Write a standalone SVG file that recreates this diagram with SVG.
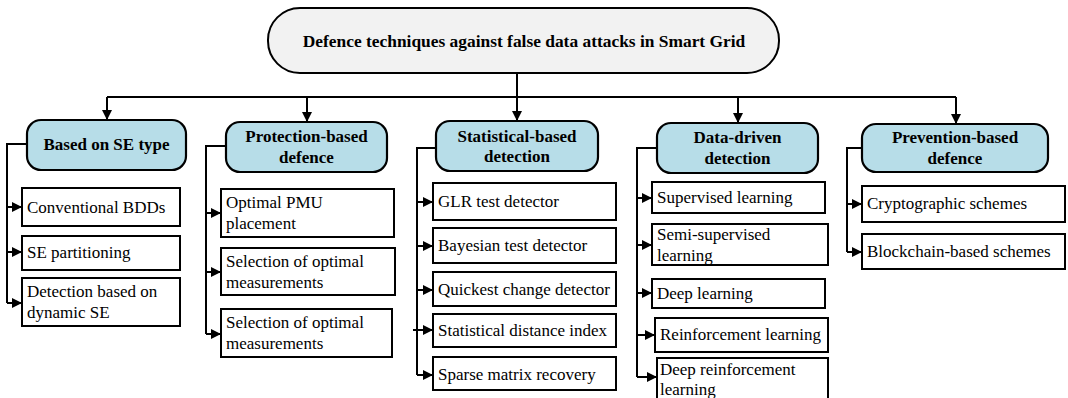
<svg xmlns="http://www.w3.org/2000/svg" width="1068" height="398" viewBox="0 0 1068 398">
<defs>
<marker id="ah" viewBox="0 0 10 10" refX="10" refY="5" markerWidth="10" markerHeight="10" markerUnits="userSpaceOnUse" orient="auto">
<path d="M0,0 L10,5 L0,10 z" fill="#000"/>
</marker>
</defs>
<style>
.root{fill:#f2f2f2;stroke:#000;stroke-width:2}
.hdr{fill:#b7dde8;stroke:#000;stroke-width:2.2}
.leaf{fill:#fff;stroke:#000;stroke-width:2}
.ht{font-family:"Liberation Serif",Tinos,"Times New Roman","DejaVu Serif",serif;font-weight:bold;font-size:17px;fill:#000;text-anchor:middle}
.rt{font-size:17.4px}
.lt{font-family:"Liberation Serif",Tinos,"Times New Roman","DejaVu Serif",serif;font-size:17px;fill:#000}
.c{fill:none;stroke:#000;stroke-width:2}
.a{fill:none;stroke:#000;stroke-width:2;marker-end:url(#ah)}
</style>
<rect width="1068" height="398" fill="#fff"/>
<g id="connectors">
<path class="c" d="M517,73 V97"/>
<path class="c" d="M107,97 H956"/>
<path class="a" d="M107,97 V120"/>
<path class="a" d="M307,97 V122"/>
<path class="a" d="M517,97 V121"/>
<path class="a" d="M738,97 V123"/>
<path class="a" d="M956,97 V124"/>
<path class="c" d="M27,144 H7 V303"/>
<path class="a" d="M7,207 H22"/>
<path class="a" d="M7,252 H22"/>
<path class="a" d="M7,303 H22"/>
<path class="c" d="M226,146 H206 V334"/>
<path class="a" d="M206,213 H221"/>
<path class="a" d="M206,272 H221"/>
<path class="a" d="M206,334 H221"/>
<path class="c" d="M436,148 H417 V375"/>
<path class="a" d="M417,202 H433"/>
<path class="a" d="M417,246 H433"/>
<path class="a" d="M417,290 H433"/>
<path class="a" d="M413,330 H433"/>
<path class="a" d="M417,375 H433"/>
<path class="c" d="M657,148 H637 V377"/>
<path class="a" d="M637,198 H652"/>
<path class="a" d="M637,245 H652"/>
<path class="a" d="M637,293 H652"/>
<path class="a" d="M637,335 H655"/>
<path class="a" d="M637,377 H657"/>
<path class="c" d="M862,148 H847 V252"/>
<path class="a" d="M847,204 H862"/>
<path class="a" d="M847,252 H862"/>
</g>
<g id="root">
<rect class="root" x="268" y="8" width="511" height="65" rx="32" ry="32"/>
<text class="ht rt" x="524" y="47">Defence techniques against false data attacks in Smart Grid</text>
</g>
<g id="h1">
<rect class="hdr" x="27" y="120" width="159" height="50" rx="14"/>
<text class="ht" x="106.5" y="150">Based on SE type</text>
</g>
<g id="h2">
<rect class="hdr" x="226" y="122" width="161" height="50" rx="14"/>
<text class="ht" x="306.5" y="142">Protection-based</text>
<text class="ht" x="306.5" y="163">defence</text>
</g>
<g id="h3">
<rect class="hdr" x="436" y="121" width="162" height="50" rx="14"/>
<text class="ht" x="517" y="142">Statistical-based</text>
<text class="ht" x="517" y="162">detection</text>
</g>
<g id="h4">
<rect class="hdr" x="657" y="123" width="161" height="50" rx="14"/>
<text class="ht" x="737.5" y="143">Data-driven</text>
<text class="ht" x="737.5" y="164">detection</text>
</g>
<g id="h5">
<rect class="hdr" x="862" y="124" width="186" height="48" rx="14"/>
<text class="ht" x="955" y="143">Prevention-based</text>
<text class="ht" x="955" y="164">defence</text>
</g>
<g id="l1a"><rect class="leaf" x="22" y="188" width="158" height="38"/><text class="lt" x="27" y="213">Conventional BDDs</text></g>
<g id="l1b"><rect class="leaf" x="22" y="236" width="158" height="34"/><text class="lt" x="27" y="258">SE partitioning</text></g>
<g id="l1c"><rect class="leaf" x="22" y="278" width="158" height="48"/><text class="lt" x="27" y="297">Detection based on</text><text class="lt" x="27" y="318">dynamic SE</text></g>
<g id="l2a"><rect class="leaf" x="221" y="189" width="173" height="48"/><text class="lt" x="226" y="208">Optimal PMU</text><text class="lt" x="226" y="229">placement</text></g>
<g id="l2b"><rect class="leaf" x="221" y="248" width="174" height="47"/><text class="lt" x="226" y="267">Selection of optimal</text><text class="lt" x="226" y="288">measurements</text></g>
<g id="l2c"><rect class="leaf" x="221" y="309" width="171" height="48"/><text class="lt" x="226" y="328">Selection of optimal</text><text class="lt" x="226" y="349">measurements</text></g>
<g id="l3a"><rect class="leaf" x="433" y="183" width="183" height="37"/><text class="lt" x="438" y="207">GLR test detector</text></g>
<g id="l3b"><rect class="leaf" x="433" y="228" width="183" height="35"/><text class="lt" x="438" y="251">Bayesian test detector</text></g>
<g id="l3c"><rect class="leaf" x="433" y="272" width="183" height="34"/><text class="lt" x="438" y="295">Quickest change detector</text></g>
<g id="l3d"><rect class="leaf" x="433" y="314" width="183" height="33"/><text class="lt" x="438" y="336">Statistical distance index</text></g>
<g id="l3e"><rect class="leaf" x="433" y="357" width="183" height="33"/><text class="lt" x="438" y="380">Sparse matrix recovery</text></g>
<g id="l4a"><rect class="leaf" x="652" y="182" width="173" height="31"/><text class="lt" x="657" y="203">Supervised learning</text></g>
<g id="l4b"><rect class="leaf" x="652" y="224" width="176" height="41"/><text class="lt" x="657" y="240">Semi-supervised</text><text class="lt" x="657" y="261">learning</text></g>
<g id="l4c"><rect class="leaf" x="652" y="279" width="173" height="29"/><text class="lt" x="657" y="299">Deep learning</text></g>
<g id="l4d"><rect class="leaf" x="655" y="318" width="173" height="34"/><text class="lt" x="660" y="340">Reinforcement learning</text></g>
<g id="l4e"><rect class="leaf" x="657" y="358" width="171" height="46"/><text class="lt" x="660" y="375">Deep reinforcement</text><text class="lt" x="660" y="395">learning</text></g>
<g id="l5a"><rect class="leaf" x="862" y="186" width="203" height="36"/><text class="lt" x="867" y="209">Cryptographic schemes</text></g>
<g id="l5b"><rect class="leaf" x="862" y="234" width="203" height="35"/><text class="lt" x="867" y="257">Blockchain-based schemes</text></g>
</svg>
